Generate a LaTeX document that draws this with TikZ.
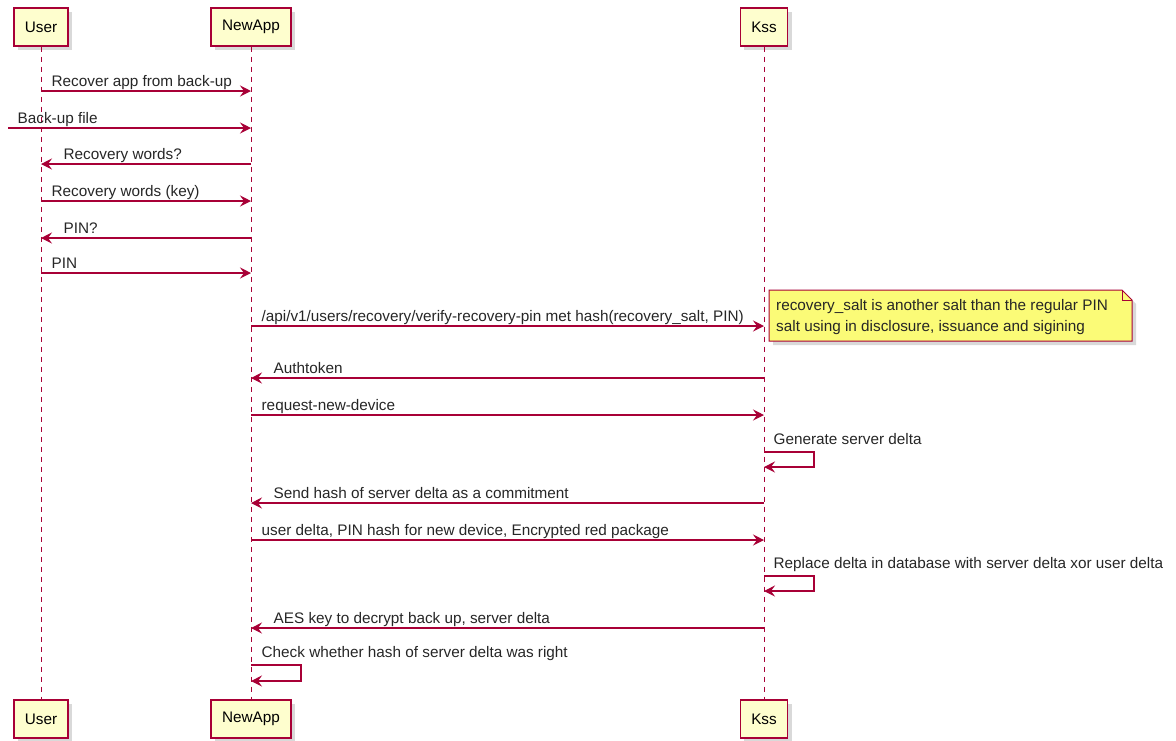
\documentclass[tikz,border=0pt]{standalone}
\usepackage{fontspec}
\setmainfont{Liberation Sans}
\usetikzlibrary{arrows.meta,shadows,backgrounds}
\definecolor{umlred}{RGB}{168,0,54}
\definecolor{umlbox}{RGB}{254,254,206}
\definecolor{umlnote}{RGB}{251,251,119}

\begin{document}
\begin{tikzpicture}[x=1pt, y=-1pt,
  actor/.style={draw=umlred, fill=umlbox, line width=1.4pt, minimum height=38pt, inner xsep=11pt, font=\fontsize{15.3}{18}\selectfont, drop shadow={shadow xshift=4pt, shadow yshift=-4pt, opacity=0.3}},
  life/.style={umlred, line width=0.9pt, dash pattern=on 5pt off 5pt},
  msg/.style={umlred, line width=1.3pt, -{Stealth[length=11pt, width=11pt, inset=4pt]}},
  lbl/.style={anchor=base west, inner sep=0pt, text=black!85, font=\fontsize{15.3}{18}\selectfont, yshift=5pt}]

\useasboundingbox (0,0) rectangle (1176,740);

% Participants
\node[actor] (user) at (41,27) {User};
\node[actor] (newapp) at (251,27) {NewApp};
\node[actor] (kss) at (764,27) {Kss};
\node[actor] (userb) at (41,719) {User};
\node[actor] (newappb) at (251,719) {NewApp};
\node[actor] (kssb) at (764,719) {Kss};

% Lifelines
\draw[life] (user) -- (userb);
\draw[life] (newapp) -- (newappb);
\draw[life] (kss) -- (kssb);

% Restore
\coordinate (outside) at (8,128);
\draw[msg] (user |- 0,91) node[lbl, xshift=10pt] {Recover app from back-up} -- (newapp |- 0,91);
\draw[msg] (outside) node[lbl, xshift=9pt] {Back-up file} -- (newapp |- outside);
\draw[msg] (newapp |- 0,164) -- (user |- 0,164) node[lbl, xshift=22pt] {Recovery words?};
\draw[msg] (user |- 0,201) node[lbl, xshift=10pt] {Recovery words (key)} -- (newapp |- 0,201);
\draw[msg] (newapp |- 0,238) -- (user |- 0,238) node[lbl, xshift=22pt] {PIN?};
\draw[msg] (user |- 0,273) node[lbl, xshift=10pt] {PIN} -- (newapp |- 0,273);

% Verify PIN
\draw[msg] (newapp |- 0,326) node[lbl, xshift=10pt] {/api/v1/users/recovery/verify-recovery-pin met hash(recovery\_salt, PIN)} -- (kss |- 0,326);
\node[lbl, anchor=north west, align=left, yshift=-5pt, inner xsep=7pt, inner ysep=9pt, font=\fontsize{15.3}{21}\selectfont] (note) at (769,290)
  {recovery\_salt is another salt than the regular PIN\\salt using in disclosure, issuance and sigining};
\begin{scope}[on background layer]
\draw[umlred, fill=umlnote, line width=1pt, drop shadow={shadow xshift=4pt, shadow yshift=-4pt, opacity=0.3}]
  (769,290) -- (1122,290) -- (1132,300) -- (1132,341) -- (769,341) -- cycle;
\draw[umlred, line width=1pt] (1122,290) -- (1122,300) -- (1132,300);
\end{scope}
\draw[msg] (kss |- 0,378) -- (newapp |- 0,378) node[lbl, xshift=22pt] {Authtoken};

% New device
\draw[msg] (newapp |- 0,415) node[lbl, xshift=10pt] {request-new-device} -- (kss |- 0,415);
\draw[msg] (kss |- 0,452) node[lbl, xshift=9pt, yshift=3pt] {Generate server delta} -- ++(50,0) -- ++(0,15) -- (kss |- 0,467);
\draw[msg] (kss |- 0,503) -- (newapp |- 0,503) node[lbl, xshift=22pt] {Send hash of server delta as a commitment};
\draw[msg] (newapp |- 0,540) node[lbl, xshift=10pt] {user delta, PIN hash for new device, Encrypted red package} -- (kss |- 0,540);
\draw[msg] (kss |- 0,576) node[lbl, xshift=9pt, yshift=3pt] {Replace delta in database with server delta xor user delta} -- ++(50,0) -- ++(0,15) -- (kss |- 0,591);
\draw[msg] (kss |- 0,628) -- (newapp |- 0,628) node[lbl, xshift=22pt] {AES key to decrypt back up, server delta};
\draw[msg] (newapp |- 0,665) node[lbl, xshift=10pt, yshift=3pt] {Check whether hash of server delta was right} -- ++(50,0) -- ++(0,16) -- (newapp |- 0,681);
\end{tikzpicture}
\end{document}
